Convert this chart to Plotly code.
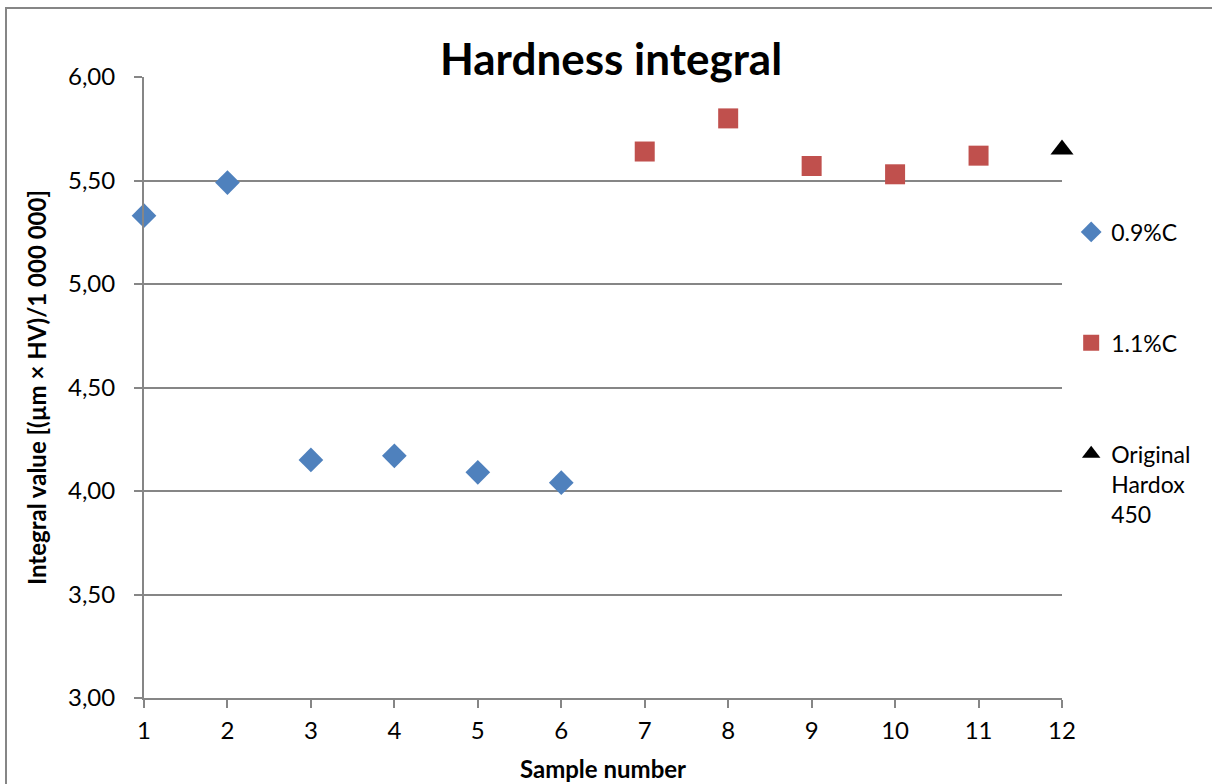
import plotly.graph_objects as go

# Sample numbers and integral values per series
samples_09c = [1, 2, 3, 4, 5, 6]
values_09c = [5.33, 5.49, 4.15, 4.17, 4.09, 4.04]

samples_11c = [7, 8, 9, 10, 11]
values_11c = [5.64, 5.80, 5.57, 5.53, 5.62]

samples_orig = [12]
values_orig = [5.65]

y_ticks = [3.0, 3.5, 4.0, 4.5, 5.0, 5.5, 6.0]
y_tick_text = ["3,00", "3,50", "4,00", "4,50", "5,00", "5,50", "6,00"]
x_ticks = list(range(1, 13))

FONT = "Lato, 'Open Sans', sans-serif"
AXIS_GREY = "#868686"

fig = go.Figure()
fig.add_trace(go.Scatter(
    x=samples_09c, y=values_09c, mode="markers", name="0.9%C",
    legendgroup="a",
    marker=dict(symbol="diamond", size=19, color="#4F81BD"),
    cliponaxis=False,
))
fig.add_trace(go.Scatter(
    x=samples_11c, y=values_11c, mode="markers", name="1.1%C",
    legendgroup="b",
    marker=dict(symbol="square", size=20, color="#C0504D"),
    cliponaxis=False,
))
fig.add_trace(go.Scatter(
    x=samples_orig, y=values_orig, mode="markers", name="Original<br>Hardox<br>450",
    legendgroup="c",
    marker=dict(symbol="triangle-up", size=20, color="#000000"),
    cliponaxis=False,
))

fig.update_layout(
    width=1212, height=784,
    margin=dict(l=144, r=150, t=77, b=86),
    paper_bgcolor="white", plot_bgcolor="white",
    font=dict(family=FONT, size=24, color="#000000"),
    title=dict(text="<b>Hardness integral</b>", x=611 / 1212, xanchor="center",
               y=1 - 60 / 784, yanchor="middle", font=dict(size=44, family=FONT)),
    legend=dict(x=1.01, y=0.785, xanchor="left", yanchor="top",
                traceorder="grouped", tracegroupgap=78, valign="top",
                font=dict(size=23, family=FONT), itemwidth=30,
                bgcolor="rgba(0,0,0,0)"),
    xaxis=dict(
        range=[1, 12], tickvals=x_ticks, showgrid=False, zeroline=False,
        showline=True, linecolor=AXIS_GREY, linewidth=2,
        ticks="outside", ticklen=8, tickcolor=AXIS_GREY, tickwidth=2,
        ticklabelstandoff=2, automargin=False,
        title=dict(text="<b>Sample number</b>", font=dict(size=24), standoff=18),
        tickfont=dict(size=24),
    ),
    yaxis=dict(
        range=[3, 6], tickvals=y_ticks, ticktext=y_tick_text,
        showgrid=True, gridcolor=AXIS_GREY, gridwidth=2, zeroline=False,
        showline=True, linecolor=AXIS_GREY, linewidth=2,
        ticks="outside", ticklen=8, tickcolor=AXIS_GREY, tickwidth=2,
        ticklabelstandoff=14, automargin=False,
        title=dict(text="<b>Integral value [(µm × HV)/1 000 000]</b>", font=dict(size=24), standoff=15),
        tickfont=dict(size=24),
    ),
    shapes=[dict(type="rect", xref="paper", yref="paper",
                 x0=(6 - 144) / 918, x1=(1240 - 144) / 918,
                 y0=-(800 - 698) / 621, y1=1 + (77 - 8) / 621,
                 line=dict(color=AXIS_GREY, width=2), layer="below")],
)

fig.write_html("out.html")
